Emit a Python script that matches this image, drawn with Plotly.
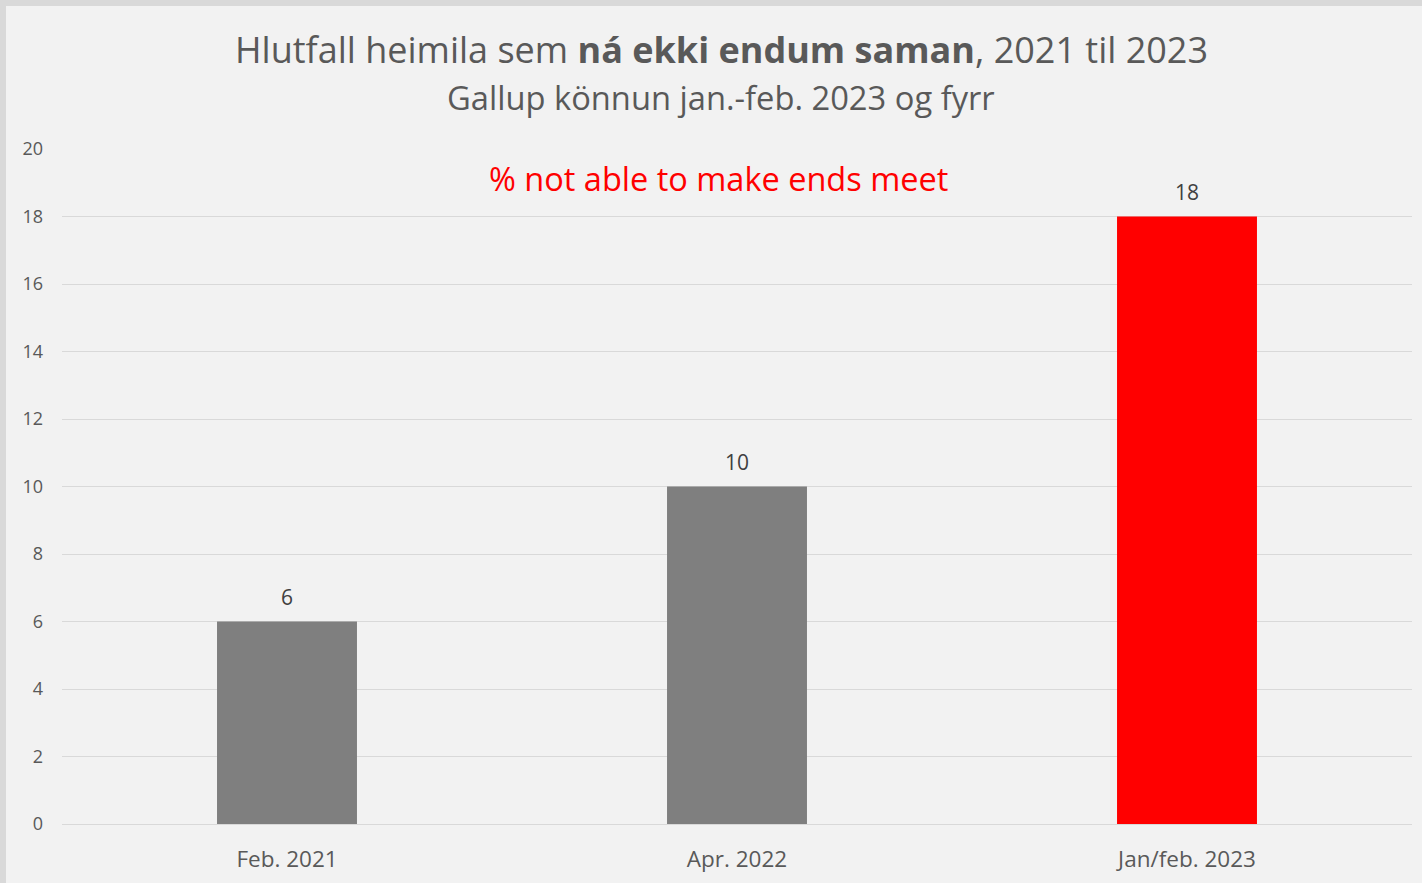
import plotly.graph_objects as go

categories = ["Feb. 2021", "Apr. 2022", "Jan/feb. 2023"]
values = [6, 10, 18]
bar_colors = ["#7f7f7f", "#7f7f7f", "#ff0000"]
y_ticks = [0, 2, 4, 6, 8, 10, 12, 14, 16, 18, 20]

title_text = "Hlutfall heimila sem <b>ná ekki endum saman</b>, 2021 til 2023"
subtitle_text = "Gallup könnun jan.-feb. 2023 og fyrr"
note_text = "% not able to make ends meet"

W, H = 1422, 883
ML, MR, MT, MB = 62, 10, 149, 59
PW, PH = W - ML - MR, H - MT - MB

def px_to_py(py):
    return (H - MB - py) / PH

def px_to_px(px):
    return (px - ML) / PW

FONT = "Open Sans"

fig = go.Figure(go.Bar(
    x=categories, y=values,
    marker=dict(color=bar_colors, line=dict(width=0)),
    hoverinfo="skip",
))

annotations = [
    dict(text=title_text, x=px_to_px(721), xref="paper", y=px_to_py(50), yref="paper",
         xanchor="center", yanchor="middle", showarrow=False,
         font=dict(family=FONT, size=36, color="#595959")),
    dict(text=subtitle_text, x=px_to_px(721), xref="paper", y=px_to_py(98), yref="paper",
         xanchor="center", yanchor="middle", showarrow=False,
         font=dict(family=FONT, size=32.7, color="#595959")),
    dict(text=note_text, x=px_to_px(718), xref="paper", y=px_to_py(178), yref="paper",
         xanchor="center", yanchor="middle", showarrow=False,
         font=dict(family=FONT, size=32.5, color="#ff0000")),
]
for c, v in zip(categories, values):
    annotations.append(dict(text=str(v), x=c, y=v, xref="x", yref="y",
                            xanchor="center", yanchor="bottom", yshift=9,
                            showarrow=False,
                            font=dict(family=FONT, size=21, color="#404040")))

shapes = [
    dict(type="rect", xref="paper", yref="paper",
         x0=px_to_px(0), x1=px_to_px(W), y0=px_to_py(0), y1=px_to_py(6),
         fillcolor="#d9d9d9", line=dict(width=0), layer="below"),
    dict(type="rect", xref="paper", yref="paper",
         x0=px_to_px(0), x1=px_to_px(6), y0=px_to_py(H), y1=px_to_py(0),
         fillcolor="#d9d9d9", line=dict(width=0), layer="below"),
]

fig.update_layout(
    width=W, height=H,
    margin=dict(l=ML, r=MR, t=MT, b=MB),
    paper_bgcolor="#f2f2f2", plot_bgcolor="#f2f2f2",
    bargap=0.689,
    showlegend=False,
    annotations=annotations,
    shapes=shapes,
    font=dict(family=FONT, color="#595959"),
    xaxis=dict(showgrid=False, showline=True, linecolor="#d9d9d9", linewidth=1,
               ticks="", tickfont=dict(family=FONT, size=22.5, color="#595959"),
               ticklabelstandoff=15, fixedrange=True),
    yaxis=dict(range=[0, 20], tickvals=y_ticks, showgrid=True, gridcolor="#d9d9d9",
               gridwidth=1, zeroline=False, showline=False, ticks="",
               tickfont=dict(family=FONT, size=18, color="#595959"),
               ticklabelstandoff=18, fixedrange=True),
)

fig.write_html("out.html", config={"displayModeBar": False},
               post_script="document.body.style.margin='0';document.body.style.overflow='hidden';")
